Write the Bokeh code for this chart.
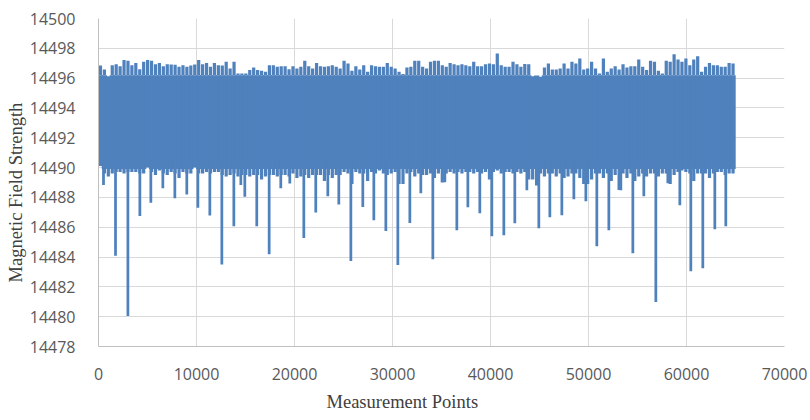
import numpy as np
from bokeh.plotting import figure
from bokeh.models import ColumnDataSource, Range1d, FixedTicker, NumeralTickFormatter, Title
from bokeh.embed import file_html
from bokeh.resources import INLINE

# ---- data read from the reference (measurement index vs field strength) ----
# per-column envelope of the dense signal: 162 columns spanning ~0..65000
col_top = [
    14496.85, 14496.58, 14496.13, 14496.87, 14496.93, 14496.80, 14497.21, 14497.17, 14496.87, 14497.02,
    14496.60, 14497.10, 14497.21, 14497.17, 14496.93, 14497.02, 14496.80, 14496.93, 14496.91, 14496.89,
    14496.76, 14496.87, 14496.76, 14496.85, 14496.91, 14497.21, 14496.93, 14497.02, 14496.76, 14497.02,
    14496.87, 14496.85, 14497.10, 14496.65, 14497.10, 14496.31, 14496.31, 14496.31, 14496.54, 14496.71,
    14496.54, 14496.50, 14496.43, 14496.87, 14496.87, 14496.76, 14496.80, 14496.80, 14496.60, 14496.80,
    14496.65, 14496.76, 14497.17, 14496.80, 14496.65, 14497.02, 14496.80, 14496.76, 14496.80, 14496.87,
    14496.76, 14496.65, 14497.17, 14496.98, 14496.50, 14496.80, 14496.58, 14496.87, 14496.43, 14496.87,
    14496.80, 14496.76, 14496.76, 14497.02, 14496.76, 14496.65, 14496.43, 14496.27, 14496.71, 14496.76,
    14497.17, 14497.17, 14496.76, 14496.65, 14497.10, 14497.17, 14497.17, 14496.87, 14496.76, 14497.02,
    14496.93, 14496.87, 14496.93, 14496.87, 14496.80, 14497.10, 14496.80, 14496.80, 14496.93, 14496.98,
    14496.93, 14497.65, 14496.87, 14496.76, 14496.76, 14497.10, 14496.93, 14496.76, 14496.95, 14496.93,
    14496.13, 14496.18, 14496.09, 14496.71, 14496.98, 14496.58, 14496.58, 14496.65, 14496.98, 14496.65,
    14497.10, 14496.98, 14497.32, 14496.58, 14496.65, 14497.10, 14496.65, 14496.31, 14497.32, 14496.43,
    14496.65, 14496.80, 14496.58, 14496.93, 14496.71, 14496.80, 14496.80, 14497.25, 14496.76, 14496.54,
    14497.17, 14497.10, 14496.50, 14496.31, 14497.17, 14497.10, 14497.61, 14497.25, 14497.10, 14497.32,
    14496.87, 14497.25, 14497.47, 14496.43, 14496.76, 14497.02, 14496.87, 14496.87, 14496.76, 14496.76,
    14497.02, 14496.98,
]
col_bottom = [
    14490.1, 14489.6, 14489.4, 14489.6, 14489.7, 14489.7, 14489.6, 14489.7, 14489.7, 14489.7,
    14489.6, 14489.6, 14490.0, 14489.7, 14489.5, 14489.8, 14489.6, 14489.5, 14489.7, 14489.6,
    14489.3, 14489.7, 14489.6, 14489.6, 14490.0, 14489.6, 14489.6, 14489.7, 14489.6, 14489.7,
    14489.7, 14489.5, 14489.4, 14489.5, 14489.6, 14489.4, 14489.5, 14489.5, 14489.4, 14489.5,
    14489.5, 14489.2, 14489.4, 14489.5, 14489.5, 14489.4, 14489.5, 14489.5, 14489.4, 14489.6,
    14489.3, 14489.4, 14489.5, 14489.3, 14489.5, 14489.5, 14489.5, 14489.1, 14489.5, 14489.3,
    14489.5, 14489.5, 14489.7, 14489.6, 14488.9, 14489.7, 14489.6, 14489.6, 14489.1, 14489.7,
    14489.6, 14489.8, 14489.6, 14489.5, 14489.6, 14489.7, 14488.9, 14488.9, 14489.6, 14489.7,
    14489.4, 14489.6, 14489.5, 14489.5, 14489.6, 14489.3, 14489.6, 14489.0, 14489.6, 14489.7,
    14489.6, 14489.7, 14489.6, 14489.7, 14489.7, 14489.6, 14489.7, 14489.6, 14489.7, 14489.2,
    14489.7, 14489.8, 14489.6, 14489.7, 14489.7, 14489.6, 14489.7, 14489.6, 14489.7, 14489.2,
    14489.2, 14488.8, 14489.6, 14489.4, 14489.6, 14489.6, 14489.4, 14489.6, 14489.3, 14489.4,
    14489.6, 14489.6, 14489.3, 14488.9, 14488.9, 14489.2, 14489.6, 14489.6, 14489.3, 14489.6,
    14489.1, 14489.5, 14488.5, 14489.6, 14489.3, 14489.6, 14489.1, 14489.4, 14489.6, 14489.4,
    14489.6, 14489.6, 14489.4, 14489.6, 14489.6, 14488.9, 14489.5, 14489.7, 14489.8, 14489.7,
    14489.6, 14489.1, 14489.6, 14489.6, 14489.6, 14489.3, 14489.6, 14489.7, 14489.7, 14489.5,
    14489.6, 14489.6,
]
# isolated downward spikes (measurement index, minimum value)
spike_x = [510, 1735, 3000, 4220, 5340, 6565, 7790, 9010, 10140, 11360,
           12585, 13810, 14525, 14930, 16150, 17415, 18600, 19520, 20950, 22170,
           23400, 24520, 25750, 26970, 28095, 29320, 30545, 31770, 32890, 34115,
           35340, 36565, 37690, 38910, 40135, 41360, 42480, 43710, 44930, 46055,
           47280, 48505, 49730, 50850, 52075, 53300, 54525, 55645, 56870, 58095,
           59320, 60440, 61665, 62890, 64010]
spike_low = [14488.83, 14484.08, 14480.05, 14486.76, 14487.65, 14488.61, 14487.94, 14488.20, 14487.31, 14486.78,
             14483.50, 14486.07, 14488.83, 14488.05, 14486.07, 14484.19, 14488.61, 14488.94, 14485.27, 14486.98,
             14488.07, 14487.53, 14483.74, 14487.36, 14486.47, 14485.75, 14483.46, 14486.29, 14488.28, 14483.86,
             14489.02, 14485.80, 14487.34, 14486.94, 14485.40, 14485.46, 14486.27, 14488.48, 14485.93, 14486.67,
             14486.80, 14487.87, 14487.74, 14484.73, 14485.80, 14488.48, 14484.26, 14488.08, 14480.98, 14488.95,
             14487.47, 14483.05, 14483.25, 14485.87, 14486.07]
last_point = 64950
x_ticks = [0, 10000, 20000, 30000, 40000, 50000, 60000, 70000]
y_ticks = [14478, 14480, 14482, 14484, 14486, 14488, 14490, 14492, 14494, 14496, 14498, 14500]

# ---- figure ----
BLUE = "#4F81BD"
p = figure(frame_width=686, frame_height=328,
           min_border_left=98, min_border_right=26, min_border_top=18, min_border_bottom=74,
           x_range=Range1d(0, 70000), y_range=Range1d(14478, 14500),
           output_backend="svg", toolbar_location=None)
p.outline_line_color = None
p.background_fill_color = "white"
p.border_fill_color = "white"

n = len(col_top)
bin_w = last_point / n
centers = (np.arange(n) + 0.5) * bin_w
core_top = [min(t, 14496.2) for t in col_top]
core_bottom = [max(b, 14489.9) for b in col_bottom]
band = ColumnDataSource(dict(x=centers, top=col_top, bottom=col_bottom,
                             ctop=core_top, cbottom=core_bottom))
# solid core of the dense trace
p.vbar(x="x", width=bin_w * 1.35, top="ctop", bottom="cbottom", source=band,
       fill_color=BLUE, line_color=None)
# comb of individual excursions at the upper and lower edges
p.vbar(x="x", width=bin_w * 0.82, top="top", bottom="ctop", source=band,
       fill_color=BLUE, line_color=None)
p.vbar(x="x", width=bin_w * 0.82, top="cbottom", bottom="bottom", source=band,
       fill_color=BLUE, line_color=None)

spikes = ColumnDataSource(dict(x=spike_x, low=spike_low, top=[14490.5] * len(spike_x)))
p.vbar(x="x", width=280, top="top", bottom="low", source=spikes,
       fill_color=BLUE, line_color=None)

# axes
for ax in (p.xaxis[0], p.yaxis[0]):
    ax.axis_line_color = "#BFBFBF"
    ax.axis_line_width = 1
    ax.major_tick_line_color = None
    ax.minor_tick_line_color = None
    ax.major_label_text_font = "Open Sans"
    ax.major_label_text_font_size = "16px"
    ax.major_label_text_color = "#595959"
    ax.formatter = NumeralTickFormatter(format="0")
p.xaxis[0].ticker = FixedTicker(ticks=x_ticks)
p.yaxis[0].ticker = FixedTicker(ticks=y_ticks)
p.xaxis[0].major_label_standoff = 15
p.yaxis[0].major_label_standoff = 17

p.xgrid.ticker = FixedTicker(ticks=x_ticks)
p.ygrid.ticker = FixedTicker(ticks=y_ticks)
for g in (p.xgrid[0], p.ygrid[0]):
    g.grid_line_color = "#D9D9D9"
    g.grid_line_width = 1

# axis titles, in the side panels, shifted to where the reference has them
p.add_layout(Title(text="Measurement Points", align="left", offset=228,
                   text_font="Liberation Serif", text_font_size="18.5px",
                   text_font_style="normal", text_color="#404040", standoff=15), "below")
p.add_layout(Title(text="Magnetic Field Strength", align="left", offset=64,
                   text_font="Liberation Serif", text_font_size="18.5px",
                   text_font_style="normal", text_color="#404040", standoff=2), "left")

open("out.html", "w").write(file_html(p, INLINE))
